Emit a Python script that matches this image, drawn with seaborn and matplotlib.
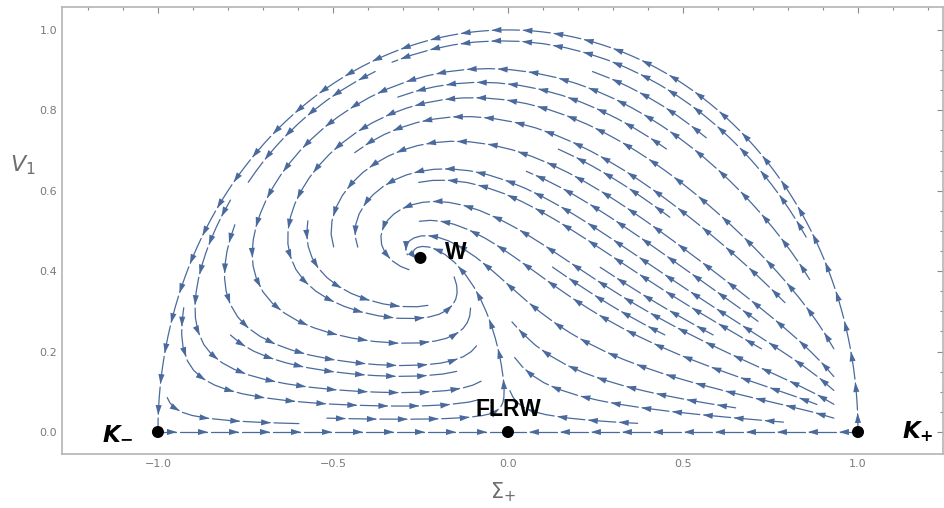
import numpy as np
import matplotlib
matplotlib.use("Agg")
import matplotlib.pyplot as plt
import seaborn as sns
from matplotlib.patches import FancyArrowPatch

# fixed points of the (Sigma_+, V_1) system
point_names = [r"$\mathbfit{K}_{\mathbf{-}}$", "FLRW", r"$\mathbfit{K}_{\mathbf{+}}$", "W"]
point_sigma = [-1.0, 0.0, 1.0, -0.25]
point_v = [0.0, 0.0, 0.0, 0.433]

x_ticks = [-1.0, -0.5, 0.0, 0.5, 1.0]
y_ticks = [0.0, 0.2, 0.4, 0.6, 0.8, 1.0]

STREAM_COLOR = "#4a6a9d"
FRAME_COLOR = "#b4b4b4"
TEXT_GRAY = "#6e6e6e"

PX_X = 350.0  # pixels per unit, used for arrow spacing
PX_Y = 402.0
ARROW_STYLE = "-|>,head_length=0.55,head_width=0.17"


def flow(s, v):
    omega = 1.0 - s ** 2 - v ** 2
    ds = -omega * s - v ** 2
    dv = (omega / 3.0 + s) * v
    return ds, dv


def draw_stream(ax, pts, spacing=31.0, offset=18.0, gap=3.0):
    """Line with Mathematica-like arrow heads and a small break after each head."""
    pts = np.asarray(pts, dtype=float)
    if len(pts) < 2:
        return
    d = np.hypot(np.diff(pts[:, 0]) * PX_X, np.diff(pts[:, 1]) * PX_Y)
    arc = np.concatenate([[0.0], np.cumsum(d)])
    total = arc[-1]
    if total < 8:
        return
    # resample at about one pixel so the breaks stay short
    fine = np.linspace(0.0, total, int(total) + 2)
    line = np.column_stack([np.interp(fine, arc, pts[:, 0]), np.interp(fine, arc, pts[:, 1])])
    heads = np.arange(offset, total - 4, spacing)
    drawn = line.copy()
    for h in heads:
        drawn[(fine > h) & (fine < h + gap)] = np.nan
    ax.plot(drawn[:, 0], drawn[:, 1], color=STREAM_COLOR, lw=0.9, zorder=2)
    for h in heads:
        i = min(np.searchsorted(fine, h), len(line) - 1)
        j = max(i - 4, 0)
        ax.add_patch(FancyArrowPatch(line[j], line[i], arrowstyle=ARROW_STYLE, mutation_scale=13,
                                     color=STREAM_COLOR, lw=0, shrinkA=0, shrinkB=0, zorder=3))


fig = plt.figure(figsize=(9.44, 5.08), dpi=100)
sns.set_style("white")
ax = fig.add_axes([0.0657, 0.1063, 0.9333, 0.8799])

gs = np.linspace(-1.0, 1.0, 401)
gv = np.linspace(0.0, 1.0, 201)
S, V = np.meshgrid(gs, gv)
U, W = flow(S, V)
keep_out = (S ** 2 + V ** 2 > 0.985 ** 2) | (V < 0.02)
U = np.ma.masked_where(keep_out, U)
W = np.ma.masked_where(keep_out, W)

strm = ax.streamplot(gs, gv, U, W, density=1.0, color=STREAM_COLOR, linewidth=0.9,
                     arrowsize=0.01, minlength=0.2)
for p in list(ax.patches):
    p.remove()
strm.lines.set_visible(False)
for seg in strm.lines.get_segments():
    draw_stream(ax, seg)

# invariant boundaries: the unit circle and the Sigma_+ axis
theta = np.linspace(0.0, np.pi, 1600)
circle = np.column_stack([np.cos(theta), np.sin(theta)])
left_axis = np.column_stack([np.linspace(-1.0, 0.0, 400), np.zeros(400)])
right_axis = np.column_stack([np.linspace(1.0, 0.0, 400), np.zeros(400)])
for line in (circle, left_axis, right_axis):
    draw_stream(ax, line)

sns.scatterplot(x=point_sigma, y=point_v, color="black", s=75, edgecolor="none", zorder=5, ax=ax)

label_font = dict(family="Liberation Sans", fontsize=16.5, fontweight="bold", color="black")
ax.text(-1.115, 0.0, point_names[0], ha="center", va="center", **label_font)
ax.text(0.0, 0.057, point_names[1], ha="center", va="center", **label_font)
ax.text(1.17, 0.0, point_names[2], ha="center", va="center", **label_font)
ax.text(-0.15, 0.447, point_names[3], ha="center", va="center", **label_font)

ax.set_xlim(-1.274, 1.243)
ax.set_ylim(-0.0547, 1.057)
ax.set_xticks(x_ticks)
ax.set_yticks(y_ticks)
ax.set_xticks(np.arange(-1.2, 1.25, 0.1), minor=True)
ax.set_yticks(np.arange(0.0, 1.05, 0.05), minor=True)
ax.set_xticklabels([f"{t:.1f}".replace("-", "\u2212") for t in x_ticks])
ax.set_yticklabels([f"{t:.1f}" for t in y_ticks])
ax.tick_params(which="both", direction="in", top=True, right=True, color="#8a8a8a",
               labelcolor="#7a7a7a", labelsize=8, width=0.8)
ax.tick_params(which="major", length=4.5)
ax.tick_params(which="minor", length=2.5)
for spine in ax.spines.values():
    spine.set_color(FRAME_COLOR)
    spine.set_linewidth(1.2)

ax.set_xlabel(r"$\Sigma_{+}$", fontsize=15, color=TEXT_GRAY, labelpad=8)
ax.set_ylabel(r"$V_{1}$", fontsize=16, color=TEXT_GRAY, rotation=0, labelpad=14)
ax.yaxis.set_label_coords(-0.045, 0.62)

fig.savefig("out.png", dpi=100)
